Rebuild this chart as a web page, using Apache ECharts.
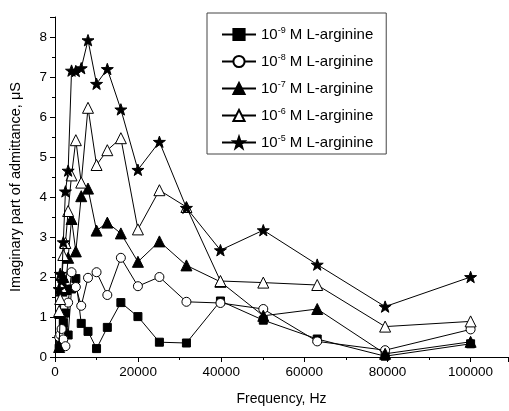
<!DOCTYPE html>
<html><head><meta charset="utf-8">
<script src="https://cdn.jsdelivr.net/npm/echarts@6/dist/echarts.min.js"></script>
<style>html,body{margin:0;padding:0;background:#fff}#c{width:509px;height:411px}</style>
</head><body><div id="c"></div>
<script>
const frequencies = [1000, 1259, 1585, 1995, 2512, 3162, 3981, 5012, 6310, 7943, 10000, 12589, 15849, 19953, 25119, 31623, 39811, 50119, 63096, 79433, 100000];
const conc9 = [0.22, 0.35, 0.55, 0.85, 1.1, 0.55, 1.7, 1.96, 0.84, 0.64, 0.21, 0.74, 1.36, 1.01, 0.37, 0.35, 1.4, 0.92, 0.45, 0.02, 0.33];
const conc8 = [0.5, 0.56, 0.7, 0.44, 0.27, 1.36, 2.12, 1.75, 1.28, 1.98, 2.12, 1.55, 2.48, 1.77, 2.0, 1.38, 1.35, 1.2, 0.39, 0.17, 0.69];
const conc7 = [0.25, 1.1, 1.66, 2.0, 1.7, 2.48, 3.45, 2.64, 4.02, 4.21, 3.16, 3.36, 3.09, 2.38, 2.89, 2.29, 1.88, 1.03, 1.2, 0.08, 0.38];
const conc6 = [1.15, 1.45, 1.75, 2.55, 2.85, 3.65, 4.54, 5.42, 4.36, 6.23, 4.8, 5.17, 5.47, 3.19, 4.17, 3.75, 1.9, 1.86, 1.8, 0.76, 0.89];
const conc5 = [1.7, 2.08, 1.9, 2.87, 4.14, 4.66, 7.16, 7.15, 7.22, 7.92, 6.83, 7.2, 6.19, 4.68, 5.38, 3.73, 2.67, 3.17, 2.31, 1.26, 2.0];
const seriesNames = ['10{sup|-9} M L-arginine', '10{sup|-8} M L-arginine', '10{sup|-7} M L-arginine', '10{sup|-6} M L-arginine', '10{sup|-5} M L-arginine'];
const xTitle = 'Frequency, Hz';
const yTitle = 'Imaginary part of admittance, μS';

const star = 'path://M50 0 L61.76 33.82 L97.55 34.55 L69.02 56.18 L79.39 90.45 L50 70 L20.61 90.45 L30.98 56.18 L2.45 34.55 L38.24 33.82 Z';
const styles = [
  {symbol: 'rect', size: 8, fill: '#000'},
  {symbol: 'circle', size: 9, fill: '#fff'},
  {symbol: 'triangle', size: 11, fill: '#000'},
  {symbol: 'triangle', size: 11, fill: '#fff'},
  {symbol: star, size: 12, fill: '#000'}
];
const allData = [conc9, conc8, conc7, conc6, conc5];
const font = 'Liberation Sans, Arial, sans-serif';
const chart = echarts.init(document.getElementById('c'), null, {renderer: 'canvas'});
chart.setOption({
  animation: false,
  backgroundColor: '#fff',
  grid: {left: 54, top: 17, width: 454, height: 343, containLabel: false},
  xAxis: {
    type: 'value', min: 0, max: 109000, interval: 20000,
    axisLine: {lineStyle: {color: '#000', width: 1}},
    axisTick: {inside: false, length: 5, lineStyle: {color: '#000'}},
    minorTick: {show: true, splitNumber: 2, length: 3, lineStyle: {color: '#000'}},
    splitLine: {show: false},
    axisLabel: {color: '#000', fontSize: 13.5, fontFamily: font, margin: 8, showMaxLabel: false,
      formatter: v => String(v)},
    name: xTitle, nameLocation: 'middle', nameGap: 35,
    nameTextStyle: {color: '#000', fontSize: 14, fontFamily: font}
  },
  yAxis: {
    type: 'value', min: 0, max: 8.5, interval: 1,
    axisLine: {show: true, lineStyle: {color: '#000', width: 1}},
    axisTick: {show: true, inside: false, length: 5, lineStyle: {color: '#000'}},
    minorTick: {show: true, splitNumber: 2, length: 3, lineStyle: {color: '#000'}},
    splitLine: {show: false},
    axisLabel: {color: '#000', fontSize: 13.5, fontFamily: font, margin: 8, showMaxLabel: false},
    name: yTitle, nameLocation: 'middle', nameGap: 32, nameRotate: 90,
    nameTextStyle: {color: '#000', fontSize: 14.5, fontFamily: font}
  },
  legend: {
    left: 207, top: 13, orient: 'vertical',
    padding: [13, 13, 4, 14],
    itemGap: 11, itemWidth: 34, itemHeight: 14,
    borderColor: '#444', borderWidth: 1,
    textStyle: {color: '#000', fontSize: 15, fontFamily: font,
      rich: {sup: {fontSize: 9, fontFamily: font, color: '#000', padding: [0, 0, 8, 0]}}},
    data: seriesNames
  },
  series: allData.map((d, i) => ({
    name: seriesNames[i],
    type: 'line',
    data: frequencies.map((f, j) => [f, d[j]]),
    symbol: styles[i].symbol,
    symbolSize: styles[i].size,
    symbolKeepAspect: true,
    showAllSymbol: true,
    lineStyle: {color: '#000', width: 1},
    itemStyle: {color: styles[i].fill, borderColor: '#000', borderWidth: 1},
    z: 2 + i
  }))
});
</script></body></html>
